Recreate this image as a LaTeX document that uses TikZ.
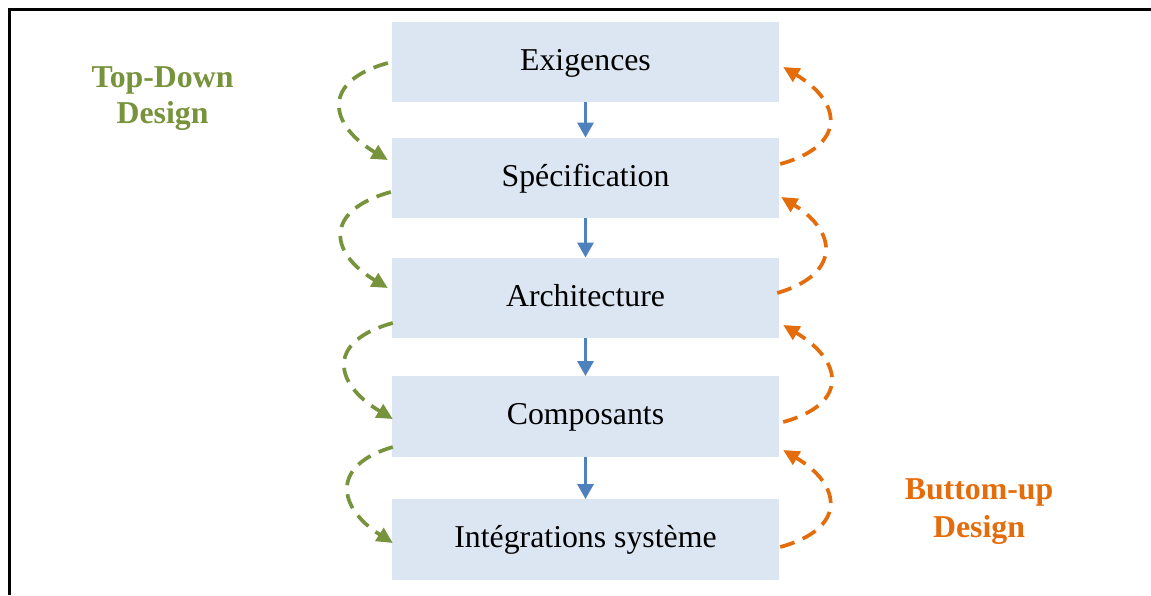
\documentclass[tikz,border=0pt]{standalone}
\usepackage{fontspec}
\setmainfont{Liberation Serif}
\usetikzlibrary{arrows.meta,calc}

\definecolor{boxfill}{RGB}{220,230,242}
\definecolor{flowblue}{RGB}{79,129,189}
\definecolor{downgreen}{RGB}{119,147,60}
\definecolor{uporange}{RGB}{228,108,10}

\begin{document}
\begin{tikzpicture}[x=1pt,y=-1pt,
  stage/.style={fill=boxfill, draw=none, minimum width=387pt, minimum height=80.5pt,
    inner sep=0pt, text height=22pt, text depth=6pt,
    font=\fontsize{31.8}{38}\selectfont},
  flow/.style={draw=flowblue, line width=3.2pt, -{Triangle[length=15pt,width=16pt]}},
  loopline/.style={line width=3.7pt, dash pattern=on 15pt off 9pt,
    -{Triangle[length=16pt,width=15pt]}},
  downloop/.style={loopline, draw=downgreen, downgreen},
  uploop/.style={loopline, draw=uporange, uporange},
  caption/.style={align=center, inner sep=0pt}
]
\useasboundingbox (0,0) rectangle (1151,595);

% open frame (top and left edges)
\draw[line width=2.5pt, line join=miter] (9.7,595) -- (9.7,9.7) -- (1151,9.7);

% design stages
\node[stage] (b1) at (585.5,62)    {Exigences};
\node[stage] (b2) at (585.5,178)   {Spécification};
\node[stage] (b3) at (585.5,298)   {Architecture};
\node[stage] (b4) at (585.5,416.5) {Composants};
\node[stage] (b5) at (585.5,539.5) {Intégrations système};

% main flow
\draw[flow] (b1.south) -- (b2.north);
\draw[flow] (b2.south) -- (b3.north);
\draw[flow] (b3.south) -- (b4.north);
\draw[flow] (b4.south) -- (b5.north);

% top-down loops (left)
\draw[downloop] ($(b1.west)+(-4,1)$) .. controls +(-66,18) and +(-60,-36) .. ($(b2.west)+(-4,-18)$);
\draw[downloop] ($(b2.west)+(-1,14)$) .. controls +(-66,18) and +(-60,-36) .. ($(b3.west)+(-4,-10)$);
\draw[downloop] ($(b3.west)+(1,25)$) .. controls +(-66,18) and +(-60,-36) .. ($(b4.west)+(1,2.5)$);
\draw[downloop] ($(b4.west)+(1,30.5)$) .. controls +(-62,18) and +(-56,-36) .. ($(b5.west)+(1,3.5)$);

% bottom-up loops (right)
\draw[uploop] ($(b2.east)+(1,-14)$) .. controls +(66,-18) and +(60,36) .. ($(b1.east)+(4,5)$);
\draw[uploop] ($(b3.east)+(-2,-5)$) .. controls +(62,-18) and +(58,36) .. ($(b2.east)+(2,19)$);
\draw[uploop] ($(b4.east)+(4,5.5)$) .. controls +(66,-18) and +(60,36) .. ($(b3.east)+(4,27)$);
\draw[uploop] ($(b5.east)+(1,7.5)$) .. controls +(66,-18) and +(60,36) .. ($(b4.east)+(4,33.5)$);

% captions
\node[caption, text=downgreen, font=\fontsize{31.8}{36}\selectfont\bfseries]
  (td) at (162.5,99) {Top-Down\\Design};
\node[caption, text=uporange, font=\fontsize{31.8}{38}\selectfont\bfseries]
  (bu) at (979,512) {Buttom-up\\Design};
\end{tikzpicture}
\end{document}
